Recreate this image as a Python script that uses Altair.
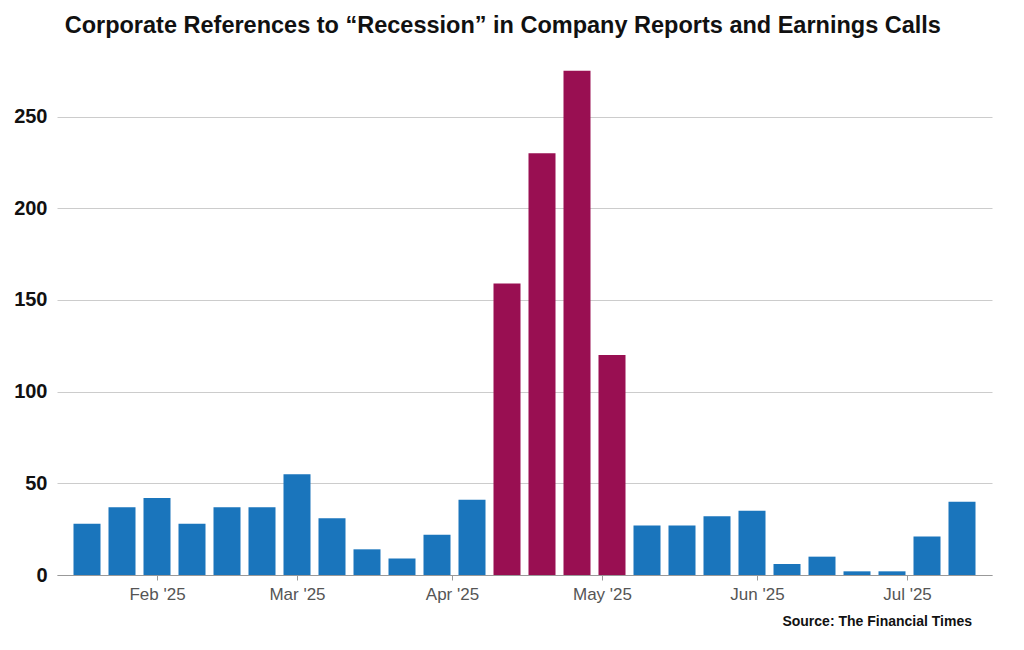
import altair as alt
import pandas as pd

weeks = pd.date_range("2025-01-18", periods=26, freq="7D")
counts = [28, 37, 42, 28, 37, 37, 55, 31, 14, 9, 22, 41,
          159, 230, 275, 120,
          27, 27, 32, 35, 6, 10, 2, 2, 21, 40]
peak = [False] * 12 + [True] * 4 + [False] * 10

df = pd.DataFrame({"week": weeks, "count": counts, "peak": peak})

bars = alt.Chart(df).mark_bar(size=27).encode(
    x=alt.X("week:T", title=None,
            scale=alt.Scale(domain=["2025-01-13", "2025-07-17"]),
            axis=alt.Axis(format="%b '%y", tickCount="month", grid=False,
                          labelFontSize=17, labelColor="#555", domainColor="#999",
                          tickColor="#999", labelPadding=6)),
    y=alt.Y("count:Q", title=None, scale=alt.Scale(domain=[0, 277], nice=False),
            axis=alt.Axis(values=[0, 50, 100, 150, 200, 250], labelFontSize=20,
                          labelFontWeight="bold", labelColor="#111", domain=False,
                          ticks=False, gridColor="#ccc", labelPadding=10)),
    color=alt.Color("peak:N", scale=alt.Scale(domain=[False, True],
                    range=["#1a75bc", "#990f52"]), legend=None),
)

source = alt.Chart(pd.DataFrame({"t": ["Source: The Financial Times"]})).mark_text(
    align="right", fontSize=14, fontWeight="bold", color="#111"
).encode(text="t:N", x=alt.value(915), y=alt.value(555))

chart = (bars + source).properties(
    width=935, height=508,
    title=alt.TitleParams("Corporate References to “Recession” in Company Reports and Earnings Calls",
                          fontSize=23.5, fontWeight="bold", anchor="middle", color="#111",
                          offset=30, frame="bounds"),
).configure(font="Liberation Sans").configure_view(stroke=None)

chart.save("out.html", embed_options={"renderer": "svg", "actions": False})
